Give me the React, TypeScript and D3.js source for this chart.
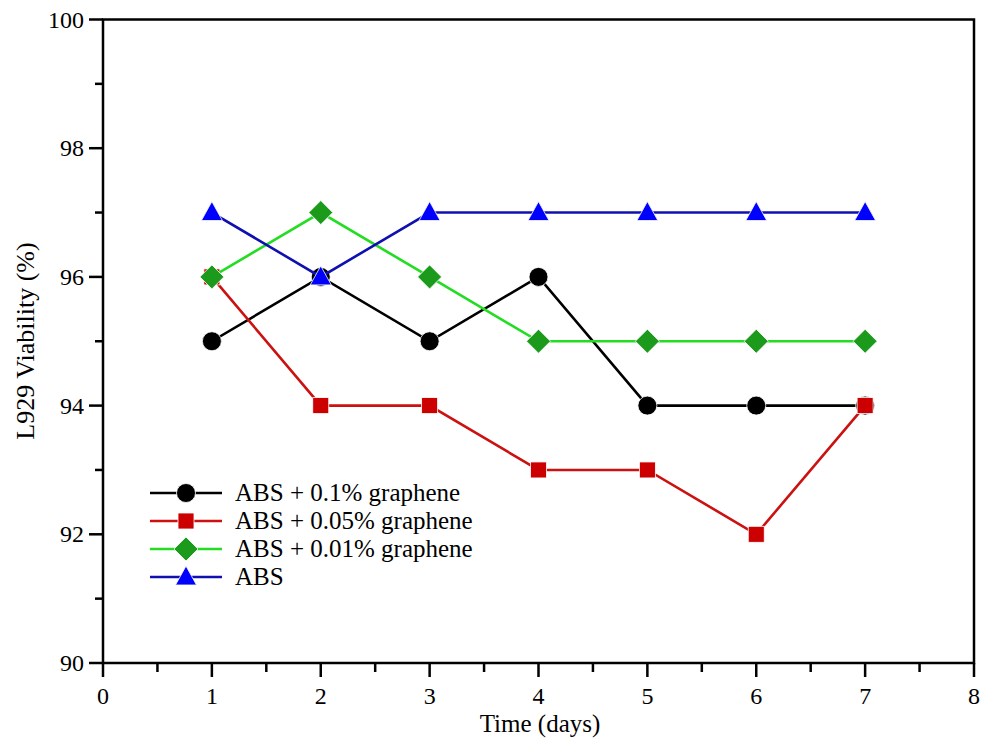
import React from "react";
import * as d3 from "d3";

const days = [1, 2, 3, 4, 5, 6, 7];
const abs01 = [95, 96, 95, 96, 94, 94, 94];
const abs005 = [96, 94, 94, 93, 93, 92, 94];
const abs001 = [96, 97, 96, 95, 95, 95, 95];
const absPure = [97, 96, 97, 97, 97, 97, 97];
const seriesNames = ["ABS + 0.1% graphene", "ABS + 0.05% graphene", "ABS + 0.01% graphene", "ABS"];
const xTicks = [0, 1, 2, 3, 4, 5, 6, 7, 8];
const yTicks = [90, 92, 94, 96, 98, 100];

const W = 992, H = 740;
const L = 103, R = 974, T = 19.5, B = 663;
const FONT = "'Liberation Serif', 'Times New Roman', serif";

type Sym = "circle" | "square" | "diamond" | "triangle";

function Marker({ sym, x, y, fill }: { sym: Sym; x: number; y: number; fill: string }) {
  if (sym === "circle") return <circle cx={x} cy={y} r={9.5} fill={fill} stroke="#fff" strokeWidth={0.8} />;
  if (sym === "square") return <rect x={x - 8} y={y - 8} width={16} height={16} fill={fill} stroke="#fff" strokeWidth={0.8} />;
  if (sym === "diamond")
    return <path d={`M${x},${y - 12}L${x + 12},${y}L${x},${y + 12}L${x - 12},${y}Z`} fill={fill} stroke="#fff" strokeWidth={0.8} />;
  return <path d={`M${x},${y - 11}L${x + 10.5},${y + 8}L${x - 10.5},${y + 8}Z`} fill={fill} stroke="#fff" strokeWidth={0.8} />;
}

export default function App() {
  const x = d3.scaleLinear().domain([0, 8]).range([L, R]);
  const y = d3.scaleLinear().domain([90, 100]).range([B, T]);
  const line = d3.line<number>().x((_, i) => x(days[i])).y((v) => y(v));

  const series = [
    { name: seriesNames[0], vals: abs01, line: "#000000", fill: "#000000", sym: "circle" as Sym },
    { name: seriesNames[1], vals: abs005, line: "#cc1111", fill: "#cc0000", sym: "square" as Sym },
    { name: seriesNames[2], vals: abs001, line: "#22dd22", fill: "#1c9a1c", sym: "diamond" as Sym },
    { name: seriesNames[3], vals: absPure, line: "#1010b0", fill: "#0000ff", sym: "triangle" as Sym },
  ];

  const xMinor = d3.range(0.5, 8, 1);
  const yMinor = d3.range(91, 100, 2);

  return (
    <svg width={W} height={H} style={{ position: "absolute", left: 0, top: 0, background: "#fff" }}>
      <rect width={W} height={H} fill="#fff" />
      <rect x={L} y={T} width={R - L} height={B - T} fill="none" stroke="#000" strokeWidth={2.5} />
      {yTicks.map((t) => (
        <g key={"y" + t}>
          <line x1={L - 14} x2={L} y1={y(t)} y2={y(t)} stroke="#000" strokeWidth={2.5} />
          <text x={84} y={y(t) + 8} textAnchor="end" fontFamily={FONT} fontSize={24}>{t}</text>
        </g>
      ))}
      {yMinor.map((t) => (
        <line key={"ym" + t} x1={L - 8} x2={L} y1={y(t)} y2={y(t)} stroke="#000" strokeWidth={2.5} />
      ))}
      {xTicks.map((t) => (
        <g key={"x" + t}>
          <line x1={x(t)} x2={x(t)} y1={B} y2={B + 14} stroke="#000" strokeWidth={2.5} />
          <text x={x(t)} y={704} textAnchor="middle" fontFamily={FONT} fontSize={24}>{t}</text>
        </g>
      ))}
      {xMinor.map((t) => (
        <line key={"xm" + t} x1={x(t)} x2={x(t)} y1={B} y2={B + 9} stroke="#000" strokeWidth={2.5} />
      ))}
      <text x={540} y={732} textAnchor="middle" fontFamily={FONT} fontSize={25}>Time (days)</text>
      <text transform="translate(34,341) rotate(-90)" textAnchor="middle" fontFamily={FONT} fontSize={26}>L929 Viability (%)</text>

      {series.map((s) => (
        <g key={s.name}>
          <path d={line(s.vals) || ""} fill="none" stroke={s.line} strokeWidth={2.6} />
          {s.vals.map((v, i) => (
            <Marker key={i} sym={s.sym} x={x(days[i])} y={y(v)} fill={s.fill} />
          ))}
        </g>
      ))}

      {series.map((s, i) => {
        const ly = 493 + i * 28;
        return (
          <g key={"lg" + i}>
            <line x1={150} x2={222} y1={ly} y2={ly} stroke={s.line} strokeWidth={2.6} />
            <Marker sym={s.sym} x={186} y={ly} fill={s.fill} />
            <text x={235} y={ly + 8} fontFamily={FONT} fontSize={25}>{s.name}</text>
          </g>
        );
      })}
    </svg>
  );
}
